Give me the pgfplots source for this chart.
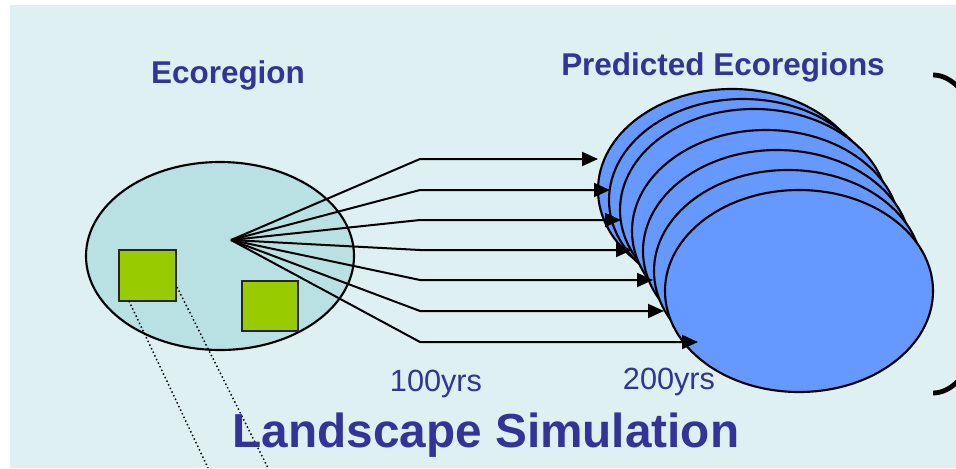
\documentclass[border=0pt]{standalone}
\usepackage{pgfplots}
\pgfplotsset{compat=1.18}
\usetikzlibrary{arrows.meta}
\usepackage{fontspec}
\setmainfont{Liberation Sans}
\definecolor{bgc}{RGB}{222,240,242}
\definecolor{ecofill}{RGB}{185,224,227}
\definecolor{sqgreen}{RGB}{153,204,0}
\definecolor{predblue}{RGB}{102,153,255}
\definecolor{txtblue}{RGB}{51,51,153}
\begin{document}
\begin{tikzpicture}
\begin{axis}[scale only axis, width=717pt, height=351pt,
  xmin=0, xmax=956, ymin=0, ymax=468, y dir=reverse,
  axis lines=none, ticks=none, clip=true]
% background
\addplot[fill=white, draw=none] coordinates {(0,0) (956,0) (956,468) (0,468)} --cycle;
\addplot[fill=bgc, draw=none] coordinates {(10,5) (956,5) (956,468) (10,468)} --cycle;
% left ecoregion
\draw[fill=ecofill, line width=1.6pt] (axis cs:220,256) ellipse [x radius=134, y radius=94];
\addplot[fill=sqgreen, draw=black!85, line width=1.7pt] coordinates {(119,250) (176,250) (176,301) (119,301)} --cycle;
\addplot[fill=sqgreen, draw=black!85, line width=1.7pt] coordinates {(242,281) (298,281) (298,331) (242,331)} --cycle;
\addplot[black, line width=1.1pt, dash pattern=on 1.1pt off 1.9pt] coordinates {(129,301) (208,468)};
\addplot[black, line width=1.1pt, dash pattern=on 1.1pt off 1.9pt] coordinates {(177,287) (268,468)};
% predicted ecoregions (back to front)
\draw[fill=predblue, line width=1.6pt] (axis cs:732,190) ellipse [x radius=134, y radius=101];
\draw[fill=predblue, line width=1.6pt] (axis cs:743,200) ellipse [x radius=134, y radius=101];
\draw[fill=predblue, line width=1.6pt] (axis cs:754,210) ellipse [x radius=134, y radius=101];
\draw[fill=predblue, line width=1.6pt] (axis cs:766,231) ellipse [x radius=134, y radius=101];
\draw[fill=predblue, line width=1.6pt] (axis cs:777,251) ellipse [x radius=134, y radius=101];
\draw[fill=predblue, line width=1.6pt] (axis cs:788,271) ellipse [x radius=134, y radius=101];
\draw[fill=predblue, line width=1.6pt] (axis cs:799,291) ellipse [x radius=134, y radius=101];
% arrows
\pgfplotsset{arr/.style={black, line width=1.5pt, -{Triangle[length=12pt,width=10.5pt]}}}
\addplot[arr] coordinates {(231,240) (420,159) (598,159)};
\addplot[arr] coordinates {(231,240) (420,190) (610,190)};
\addplot[arr] coordinates {(231,240) (420,220) (621,220)};
\addplot[arr] coordinates {(231,240) (420,250) (632,250)};
\addplot[arr] coordinates {(231,240) (420,280) (653,280)};
\addplot[arr] coordinates {(231,240) (420,311) (664,311)};
\addplot[arr] coordinates {(231,240) (420,342) (698,342)};
% bracket
\begin{scope}
\clip (axis cs:933,0) rectangle (axis cs:960,468);
\draw[black, line width=3.6pt] (axis cs:933,234) ellipse [x radius=66, y radius=159];
\end{scope}
% texts
\node[anchor=base, text=txtblue, font=\fontsize{23.6}{28}\selectfont\bfseries] at (axis cs:228,83) {Ecoregion};
\node[anchor=base, text=txtblue, font=\fontsize{23.6}{28}\selectfont\bfseries] at (axis cs:723,75) {Predicted Ecoregions};
\node[anchor=base, text=txtblue, font=\fontsize{23}{28}\selectfont] at (axis cs:436,391) {100yrs};
\node[anchor=base, text=txtblue, font=\fontsize{23}{28}\selectfont] at (axis cs:669,389) {200yrs};
\node[anchor=base, text=txtblue, font=\fontsize{35.8}{40}\selectfont\bfseries] at (axis cs:486,447) {Landscape Simulation};
\end{axis}
\end{tikzpicture}
\end{document}
